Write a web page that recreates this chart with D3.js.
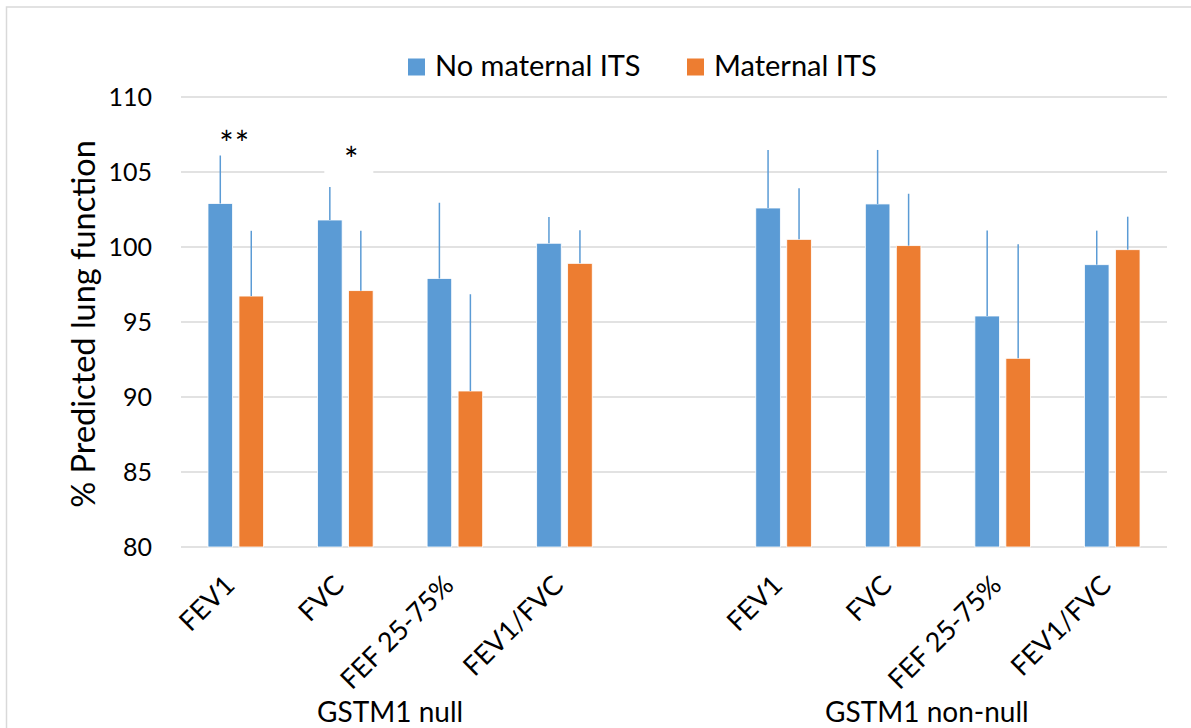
<!DOCTYPE html>
<html>
<head>
<meta charset="utf-8">
<script src="https://cdn.jsdelivr.net/npm/d3@7/dist/d3.min.js"></script>
<style>
  html, body { margin: 0; padding: 0; background: #ffffff; }
  svg { display: block; font-family: Lato, "Open Sans", sans-serif; }
</style>
</head>
<body>
<svg id="chart" width="1191" height="728"></svg>
<script>
// ---- data ----
const groups = ["GSTM1 null", "GSTM1 non-null"];
const measures = ["FEV1", "FVC", "FEF 25-75%", "FEV1/FVC"];
const seriesNames = ["No maternal ITS", "Maternal ITS"];
const noMaternal = [102.9, 101.8, 97.9, 100.25, 102.6, 102.87, 95.4, 98.82];
const maternal = [96.73, 97.09, 90.4, 98.91, 100.51, 100.09, 92.58, 99.82];
const noMaternalErr = [3.2, 2.2, 5.05, 1.75, 3.87, 3.6, 5.7, 2.27];
const maternalErr = [4.35, 4.0, 6.45, 2.2, 3.4, 3.46, 7.6, 2.2];
const yTicks = [80, 85, 90, 95, 100, 105, 110];
const significance = ["**", "*", "", "", "", "", "", ""];

const colors = { "No maternal ITS": "#5b9bd5", "Maternal ITS": "#ed7d31" };
const errColor = "#5b9bd5";

// build slots: 4 categories, one blank slot, 4 categories
const slots = [];
groups.forEach((g, gi) => {
  measures.forEach((m, mi) => slots.push({ key: g + "|" + m, group: g, measure: m, idx: gi * measures.length + mi }));
  if (gi < groups.length - 1) slots.push({ key: "gap" + gi, blank: true });
});

const svg = d3.select("#chart");
const plotL = 181, plotR = 1167, plotT = 97, plotB = 547;

const x = d3.scaleBand().domain(slots.map(s => s.key)).range([plotL, plotR]).padding(0);
const x1 = d3.scaleBand().domain(seriesNames).range([0, x.bandwidth()]).paddingInner(0.2065).paddingOuter(0.871);
const y = d3.scaleLinear().domain([80, 110]).range([plotB, plotT]);

// outer frame
svg.append("rect").attr("x", 6.5).attr("y", 7).attr("width", 1200).attr("height", 740)
  .attr("fill", "none").attr("stroke", "#d9d9d9").attr("stroke-width", 1.5);

// gridlines
svg.append("g").selectAll("line").data(yTicks).join("line")
  .attr("x1", plotL).attr("x2", plotR)
  .attr("y1", d => y(d)).attr("y2", d => y(d))
  .attr("stroke", "#d9d9d9").attr("stroke-width", 1.5);

// y tick labels
svg.append("g").selectAll("text").data(yTicks).join("text")
  .attr("x", 152).attr("y", d => y(d)).attr("dy", "0.36em")
  .attr("text-anchor", "end").attr("font-size", 25).attr("fill", "#000")
  .text(d => d);

// y title
svg.append("text")
  .attr("transform", `translate(95,${(plotT + plotB) / 2 + 2}) rotate(-90)`)
  .attr("text-anchor", "middle").attr("font-size", 32.5).attr("fill", "#000")
  .text("% Predicted lung function");

// bars
const cats = slots.filter(s => !s.blank);
const seriesData = [
  { name: seriesNames[0], vals: noMaternal, errs: noMaternalErr },
  { name: seriesNames[1], vals: maternal, errs: maternalErr }
];
const barG = svg.append("g");
seriesData.forEach(s => {
  barG.selectAll(null).data(cats).join("rect")
    .attr("x", d => x(d.key) + x1(s.name))
    .attr("width", x1.bandwidth())
    .attr("y", d => y(s.vals[d.idx]))
    .attr("height", d => y(80) - y(s.vals[d.idx]))
    .attr("fill", colors[s.name])
    .attr("stroke", "#ffffff").attr("stroke-width", 0.8);
});
// error bars (plus direction only)
seriesData.forEach(s => {
  barG.selectAll(null).data(cats).join("line")
    .attr("x1", d => x(d.key) + x1(s.name) + x1.bandwidth() / 2)
    .attr("x2", d => x(d.key) + x1(s.name) + x1.bandwidth() / 2)
    .attr("y1", d => y(s.vals[d.idx]))
    .attr("y2", d => y(s.vals[d.idx] + s.errs[d.idx]))
    .attr("stroke", errColor).attr("stroke-width", 1.5);
});

// significance markers
cats.forEach(d => {
  const sig = significance[d.idx];
  if (!sig) return;
  const cx = x(d.key) + x.bandwidth() / 2;
  const errTop = y(noMaternal[d.idx] + noMaternalErr[d.idx]);
  if (sig === "*") {
    svg.append("rect").attr("x", cx - 21).attr("y", errTop - 48).attr("width", 49).attr("height", 38).attr("fill", "#fff");
    svg.append("text").attr("x", cx + 6).attr("y", errTop - 15).attr("text-anchor", "middle")
      .attr("font-size", 34).attr("fill", "#000").text(sig);
  } else {
    svg.append("text").attr("x", cx - 1).attr("y", errTop).attr("text-anchor", "middle")
      .attr("font-size", 34).attr("fill", "#000").attr("letter-spacing", 1).text(sig);
  }
});

// x category labels (rotated)
svg.append("g").selectAll("text").data(cats).join("text")
  .attr("transform", d => `translate(${x(d.key) + x.bandwidth() / 2 + 0.5},587) rotate(-45)`)
  .attr("text-anchor", "end").attr("font-size", 27).attr("fill", "#000")
  .text(d => d.measure);

// group labels
const groupOffsets = [-10, -21];
groups.forEach((g, gi) => {
  const gc = cats.filter(c => c.group === g);
  const cx = (x(gc[0].key) + x(gc[gc.length - 1].key) + x.bandwidth()) / 2;
  svg.append("text").attr("x", cx + groupOffsets[gi]).attr("y", 722)
    .attr("text-anchor", "middle").attr("font-size", 28).attr("fill", "#000").text(g);
});

// legend
const legendPos = [408, 687];
seriesNames.forEach((n, i) => {
  svg.append("rect").attr("x", legendPos[i]).attr("y", 58.5).attr("width", 17).attr("height", 17).attr("fill", colors[n]);
  svg.append("text").attr("x", legendPos[i] + 27).attr("y", 76).attr("font-size", 29).attr("fill", "#000").text(n);
});
</script>
</body>
</html>
